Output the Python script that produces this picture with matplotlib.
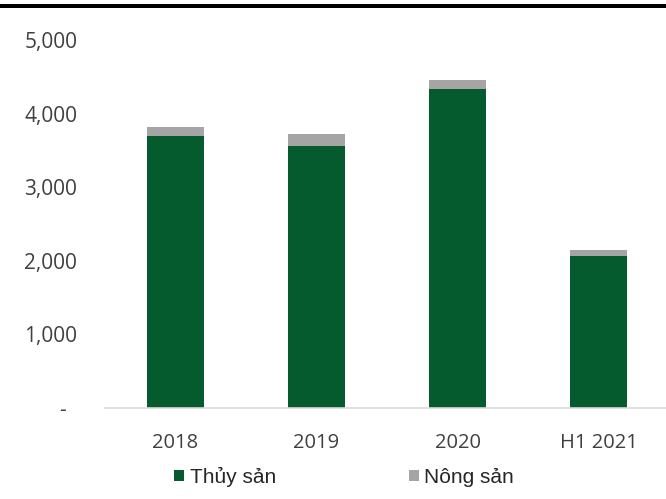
import numpy as np
import matplotlib.pyplot as plt
from matplotlib.patches import Rectangle
from matplotlib.ticker import FuncFormatter

# data (tỷ đồng)
years = ["2018", "2019", "2020", "H1 2021"]
thuy_san = [3700, 3565, 4335, 2070]
nong_san = [122, 162, 122, 73]

GREEN = "#055A2E"
GREY = "#A5A5A5"
TXT = "#404040"

plt.rcParams['font.family'] = ['Open Sans', 'DejaVu Sans']

fig = plt.figure(figsize=(6.66, 4.99), dpi=100)
ax = fig.add_axes([105 / 666, 1 - 408 / 499, 564 / 666, 368 / 499])

x = np.arange(len(years))
ax.bar(x, thuy_san, width=0.40, color=GREEN, label="Thủy sản", zorder=2)
ax.bar(x, nong_san, width=0.40, bottom=thuy_san, color=GREY,
       label="Nông sản", zorder=2)

ax.set_xlim(-0.5, 3.5)
ax.set_ylim(0, 5000)
ax.set_yticks(range(0, 5001, 1000))
ax.yaxis.set_major_formatter(FuncFormatter(
    lambda v, p: "-  " if v == 0 else f"{int(v):,}"))
ax.set_xticks(x)
ax.set_xticklabels(years)
ax.tick_params(axis='both', length=0, colors=TXT)
ax.tick_params(axis='y', pad=20, labelsize=15)
ax.tick_params(axis='x', pad=18, labelsize=14.5)

for s in ['top', 'right', 'left']:
    ax.spines[s].set_visible(False)
ax.spines['bottom'].set_color("#D9D9D9")
ax.spines['bottom'].set_linewidth(1.2)

# legend
leg = fig.legend(loc='center', bbox_to_anchor=(0.517, 1 - 477 / 499), ncol=2,
                 frameon=False, prop={'family': 'Liberation Sans', 'size': 15},
                 handlelength=0.48, handleheight=0.48, handletextpad=0.25,
                 columnspacing=6.4, labelcolor="#262626")

# black rule at the top
fig.add_artist(Rectangle((0, 1 - 8 / 499), 1, 4 / 499, transform=fig.transFigure,
                         color="black", lw=0))

fig.savefig("out.png", dpi=100)
